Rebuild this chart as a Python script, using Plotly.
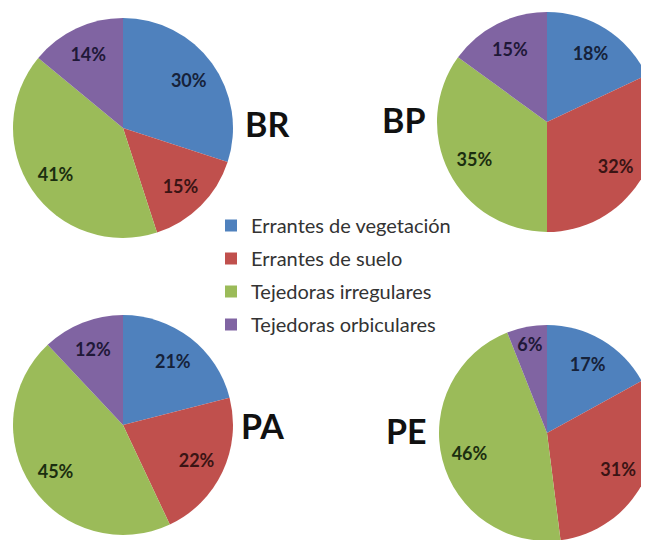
import plotly.graph_objects as go

categories = ["Errantes de vegetación", "Errantes de suelo", "Tejedoras irregulares", "Tejedoras orbiculares"]
colors = ["#4F81BD", "#C0504D", "#9BBB59", "#8064A2"]
text_colors = ["#16223a", "#3a1414", "#1b2e10", "#201838"]

site_names = ["BR", "BP", "PA", "PE"]
br_values = [30, 15, 41, 14]
bp_values = [18, 32, 35, 15]
pa_values = [21, 22, 45, 12]
pe_values = [17, 31, 46, 6]
site_values = [br_values, bp_values, pa_values, pe_values]

W, H = 649, 540
OFF = 8  # default page body margin


def px_x(x):
    return (x - OFF) / W


def px_y(y):
    return 1 - (y - OFF) / H


# pie boxes in page pixels: (x0, x1, ytop, ybottom)
boxes = [
    (13, 233, 18, 238),
    (437, 657, 12, 232),
    (13, 233, 315, 535),
    (439, 655, 325, 541),
]
title_pos = [(267, 123), (403, 120), (262, 425), (406, 430)]

fig = go.Figure()
for name, vals, (x0, x1, yt, yb) in zip(site_names, site_values, boxes):
    dom = dict(x=[max(0, px_x(x0)), min(1, px_x(x1))], y=[px_y(yb), px_y(yt)])
    # coloured slices
    fig.add_trace(go.Pie(
        labels=categories, values=vals, name=name,
        sort=False, direction="clockwise", rotation=0,
        marker=dict(colors=colors, line=dict(width=0)),
        textinfo="none", showlegend=False,
        hoverinfo="label+percent", domain=dom,
    ))
    # transparent ring carrying the percentage labels
    fig.add_trace(go.Pie(
        labels=categories, values=vals, name=name,
        sort=False, direction="clockwise", rotation=0, hole=0.48,
        marker=dict(colors=["rgba(0,0,0,0)"] * 4, line=dict(width=0)),
        texttemplate="%{value}%", textposition="inside",
        insidetextorientation="horizontal",
        textfont=dict(family="Lato", size=18, color=text_colors, weight="bold"),
        showlegend=False, hoverinfo="skip", domain=dom,
    ))

# legend entries
for cat, col in zip(categories, colors):
    fig.add_trace(go.Scatter(
        x=[None], y=[None], mode="markers", name=cat,
        marker=dict(symbol="square", size=10, color=col),
        legendgroup=cat, showlegend=True,
    ))

for name, (tx, ty) in zip(site_names, title_pos):
    fig.add_annotation(
        x=px_x(tx), y=px_y(ty), xref="paper", yref="paper",
        text="<b>%s</b>" % name, showarrow=False,
        font=dict(family="Lato", size=34, color="#111111"),
        xanchor="center", yanchor="middle",
    )

fig.update_layout(
    width=W, height=H,
    margin=dict(l=0, r=0, t=0, b=0),
    paper_bgcolor="white", plot_bgcolor="white",
    xaxis=dict(visible=False), yaxis=dict(visible=False),
    legend=dict(
        x=px_x(211), y=px_y(206), xanchor="left", yanchor="top",
        font=dict(family="Lato", size=20, color="#333333"),
        bgcolor="rgba(0,0,0,0)", tracegroupgap=4, itemsizing="constant",
    ),
)

fig.write_html("out.html")
